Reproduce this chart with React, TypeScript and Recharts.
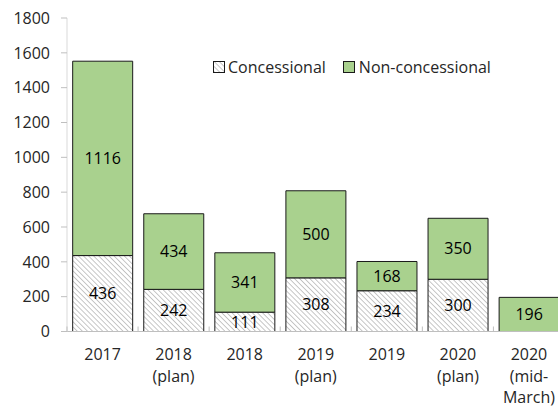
import React from 'react';
import { BarChart, Bar, XAxis, YAxis, Legend, LabelList } from 'recharts';

const categories: string[][] = [
  ['2017'],
  ['2018', '(plan)'],
  ['2018'],
  ['2019', '(plan)'],
  ['2019'],
  ['2020', '(plan)'],
  ['2020', '(mid-', 'March)'],
];
const concessional = [436, 242, 111, 308, 234, 300, 0];
const nonConcessional = [1116, 434, 341, 500, 168, 350, 196];
const yTicks = [0, 200, 400, 600, 800, 1000, 1200, 1400, 1600, 1800];
const seriesNames = { concessional: 'Concessional', nonConcessional: 'Non-concessional' };

const data = categories.map((c, i) => ({
  name: c.join('\n'),
  concessional: concessional[i],
  nonConcessional: nonConcessional[i],
}));

const FONT = '"Open Sans", "DejaVu Sans", sans-serif';
const FS = 16;
const GREEN = '#A9D18E';
const EDGE = '#1a1a1a';
const TEXT = '#262626';

const XTick = (props: any) => {
  const { x, y, payload } = props;
  const lines = String(payload.value).split('\n');
  const half = payload.offset ?? 35.6;
  return (
    <g>
      <line x1={x - half} x2={x - half} y1={y} y2={y - 5} stroke="#bfbfbf" strokeWidth={1} />
      <text x={x} y={y} textAnchor="middle" fontSize={FS} fill={TEXT} fontFamily={FONT}>
        {lines.map((l, i) => (
          <tspan key={i} x={x} dy={i === 0 ? 28.5 : 21.5}>
            {l}
          </tspan>
        ))}
      </text>
    </g>
  );
};

const HatchIcon = () => (
  <svg width={12} height={12} style={{ display: 'block' }}>
    <defs>
      <pattern id="hatchIcon" width={3.6} height={3.6} patternUnits="userSpaceOnUse" patternTransform="rotate(-45)">
        <line x1={0} y1={0} x2={0} y2={3.6} stroke="#999" strokeWidth={1.1} />
      </pattern>
    </defs>
    <rect x={0.5} y={0.5} width={11} height={11} fill="#fff" stroke={EDGE} />
    <rect x={0.5} y={0.5} width={11} height={11} fill="url(#hatchIcon)" stroke={EDGE} />
  </svg>
);

const GreenIcon = () => (
  <svg width={12} height={12} style={{ display: 'block' }}>
    <rect x={0.5} y={0.5} width={11} height={11} fill={GREEN} stroke={EDGE} />
  </svg>
);

const renderLegend = () => (
  <div style={{ display: 'flex', alignItems: 'center', fontFamily: FONT, fontSize: FS, color: TEXT }}>
    <div style={{ display: 'flex', alignItems: 'center' }}>
      <HatchIcon />
      <span style={{ marginLeft: 3 }}>{seriesNames.concessional}</span>
    </div>
    <div style={{ display: 'flex', alignItems: 'center', marginLeft: 17 }}>
      <GreenIcon />
      <span style={{ marginLeft: 4 }}>{seriesNames.nonConcessional}</span>
    </div>
  </div>
);

const labelFormatter = (v: any) => (v ? v : '');

export default function App() {
  return (
    <div
      style={{
        position: 'absolute',
        left: 0,
        top: 0,
        width: 558,
        height: 408,
        overflow: 'hidden',
        background: '#fff',
        fontFamily: FONT,
      }}
    >
      <BarChart
        width={564.5}
        height={408}
        data={data}
        margin={{ top: 18, right: 0, bottom: 0, left: 0 }}
        barCategoryGap="8%"
      >
        <defs>
          <pattern id="hatch" width={3.6} height={3.6} patternUnits="userSpaceOnUse" patternTransform="rotate(-45)">
            <rect x={0} y={0} width={3.6} height={3.6} fill="#fff" />
            <line x1={0} y1={0} x2={0} y2={3.6} stroke="#999" strokeWidth={1.1} />
          </pattern>
        </defs>
        <XAxis
          dataKey="name"
          interval={0}
          height={76.5}
          tickLine={false}
          tickSize={0}
          tickMargin={0}
          axisLine={{ stroke: '#bfbfbf' }}
          tick={<XTick />}
        />
        <YAxis
          width={67}
          domain={[0, 1800]}
          ticks={yTicks}
          interval={0}
          tickSize={6}
          tickMargin={11}
          tickLine={{ stroke: '#bfbfbf' }}
          axisLine={{ stroke: '#d9d9d9' }}
          tick={{ fontSize: FS, fill: TEXT, fontFamily: FONT }}
        />
        <Legend
          layout="horizontal"
          verticalAlign="middle"
          align="center"
          content={renderLegend}
          wrapperStyle={{ position: 'absolute', top: 56, left: 213, width: 330, height: 20 }}
        />
        <Bar
          dataKey="concessional"
          name={seriesNames.concessional}
          stackId="a"
          fill="url(#hatch)"
          stroke={EDGE}
          strokeWidth={1}
          isAnimationActive={false}
        >
          <LabelList
            dataKey="concessional"
            position="center"
            formatter={labelFormatter}
            fill="#000"
            fontSize={FS}
            fontFamily={FONT}
          />
        </Bar>
        <Bar
          dataKey="nonConcessional"
          name={seriesNames.nonConcessional}
          stackId="a"
          fill={GREEN}
          stroke={EDGE}
          strokeWidth={1}
          isAnimationActive={false}
        >
          <LabelList
            dataKey="nonConcessional"
            position="center"
            formatter={labelFormatter}
            fill="#000"
            fontSize={FS}
            fontFamily={FONT}
          />
        </Bar>
      </BarChart>
    </div>
  );
}
